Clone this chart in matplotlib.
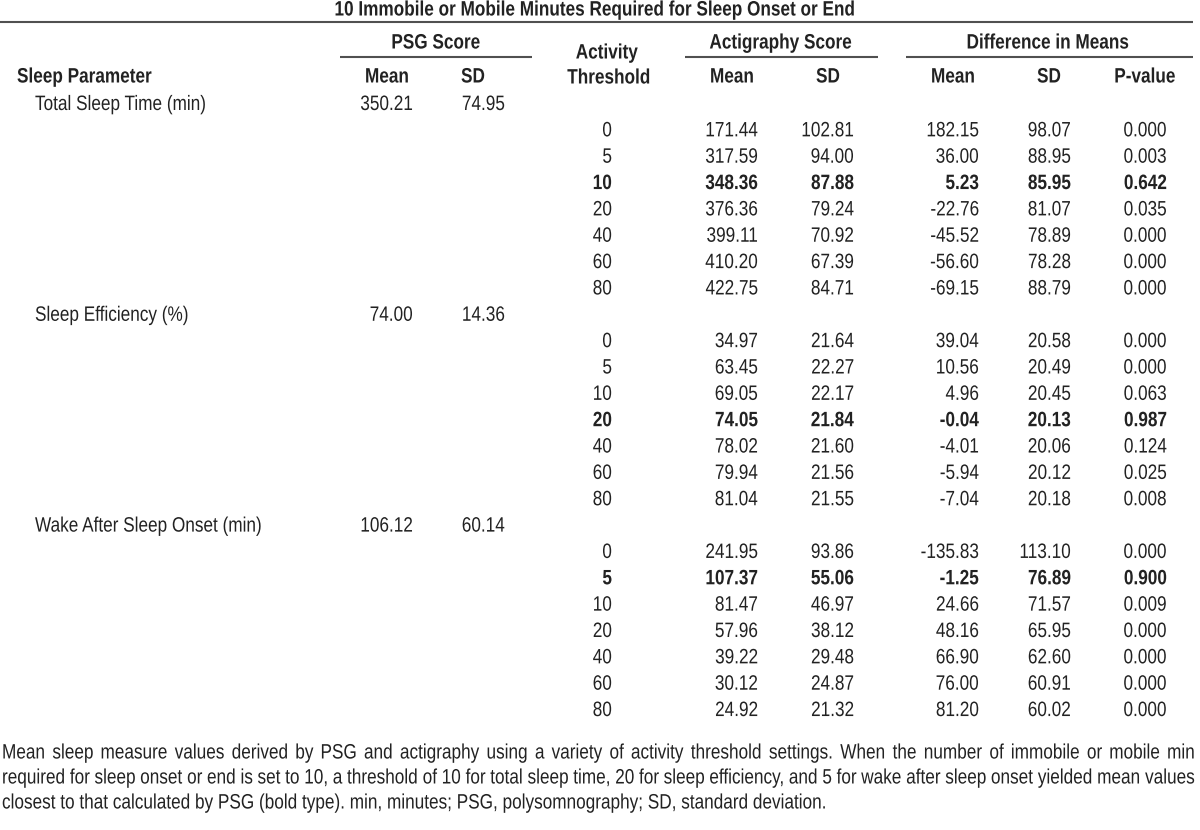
import matplotlib
matplotlib.use("Agg")
import matplotlib.pyplot as plt
from matplotlib.patheffects import AbstractPathEffect
from matplotlib.transforms import Affine2D, Bbox
from matplotlib.text import Text

# ---------- data ----------
title = "10 Immobile or Mobile Minutes Required for Sleep Onset or End"
params = ["Total Sleep Time (min)", "Sleep Efficiency (%)", "Wake After Sleep Onset (min)"]
psg_mean = ["350.21", "74.00", "106.12"]
psg_sd = ["74.95", "14.36", "60.14"]
thresholds = ["0", "5", "10", "20", "40", "60", "80"]

act_mean = [
    ["171.44", "317.59", "348.36", "376.36", "399.11", "410.20", "422.75"],
    ["34.97", "63.45", "69.05", "74.05", "78.02", "79.94", "81.04"],
    ["241.95", "107.37", "81.47", "57.96", "39.22", "30.12", "24.92"],
]
act_sd = [
    ["102.81", "94.00", "87.88", "79.24", "70.92", "67.39", "84.71"],
    ["21.64", "22.27", "22.17", "21.84", "21.60", "21.56", "21.55"],
    ["93.86", "55.06", "46.97", "38.12", "29.48", "24.87", "21.32"],
]
diff_mean = [
    ["182.15", "36.00", "5.23", "-22.76", "-45.52", "-56.60", "-69.15"],
    ["39.04", "10.56", "4.96", "-0.04", "-4.01", "-5.94", "-7.04"],
    ["-135.83", "-1.25", "24.66", "48.16", "66.90", "76.00", "81.20"],
]
diff_sd = [
    ["98.07", "88.95", "85.95", "81.07", "78.89", "78.28", "88.79"],
    ["20.58", "20.49", "20.45", "20.13", "20.06", "20.12", "20.18"],
    ["113.10", "76.89", "71.57", "65.95", "62.60", "60.91", "60.02"],
]
pvals = [
    ["0.000", "0.003", "0.642", "0.035", "0.000", "0.000", "0.000"],
    ["0.000", "0.000", "0.063", "0.987", "0.124", "0.025", "0.008"],
    ["0.000", "0.900", "0.009", "0.000", "0.000", "0.000", "0.000"],
]
best = [2, 3, 1]   # bold threshold row per parameter

caption_lines = [
    "Mean sleep measure values derived by PSG and actigraphy using a variety of activity threshold "
    "settings. When the number of immobile or mobile min",
    "required for sleep onset or end is set to 10, a threshold of 10 for total sleep time, 20 for sleep "
    "efficiency, and 5 for wake after sleep onset yielded mean values",
    "closest to that calculated by PSG (bold type). min, minutes; PSG, polysomnography; SD, standard deviation.",
]

# ---------- style ----------
FAM = ["Liberation Sans", "DejaVu Sans"]
FS = 15.0
SX = 0.825          # horizontal squeeze -> narrow face look
TC = "#222222"
LC = "#505050"


class Squeeze(AbstractPathEffect):
    """draw text glyphs compressed horizontally about their origin"""
    def __init__(self, sx):
        super().__init__()
        self.sx = sx

    def draw_path(self, renderer, gc, tpath, affine, rgbFace=None):
        renderer.draw_path(gc, tpath, Affine2D().scale(self.sx, 1) + affine, rgbFace)


class NarrowText(Text):
    """left-anchored text whose reported extent matches the squeezed glyphs"""
    def get_window_extent(self, renderer=None, dpi=None):
        bb = super().get_window_extent(renderer, dpi)
        return Bbox.from_extents(bb.x0, bb.y0, bb.x0 + bb.width * SX, bb.y1)


fig = plt.figure(figsize=(12, 8.3), dpi=100)
ax = fig.add_axes([0, 0, 1, 1])
ax.set_xlim(0, 1200); ax.set_ylim(830, 0); ax.axis("off")
fig.canvas.draw()
rend = fig.canvas.get_renderer()


def width(s, bold=False):
    t = ax.text(0, 0, s, fontsize=FS, family=FAM, fontweight="bold" if bold else "normal")
    w = t.get_window_extent(rend).width
    t.remove()
    return w * SX


def txt(x, y, s, ha="center", bold=False):
    w = width(s, bold)
    x0 = {"left": x, "center": x - w / 2, "right": x - w}[ha]
    t = NarrowText(x0, y, s, ha="left", va="center", fontsize=FS, family=FAM, color=TC,
                   fontweight="bold" if bold else "normal", path_effects=[Squeeze(SX)])
    ax._add_text(t)
    return t


def hline(x0, x1, y, lw=1.5):
    ax.plot([x0, x1], [y, y], color=LC, lw=lw, solid_capstyle="butt")


# header
txt(596, 10, title, bold=True)
hline(0, 1193, 22.5)
txt(436, 43, "PSG Score", bold=True)
txt(781, 43, "Actigraphy Score", bold=True)
txt(1048, 43, "Difference in Means", bold=True)
hline(340, 532, 57); hline(685, 878, 57); hline(906, 1193, 57)
txt(607, 53, "Activity", bold=True)
txt(609, 78, "Threshold", bold=True)
txt(17, 77, "Sleep Parameter", ha="left", bold=True)
for x, s in [(387, "Mean"), (473, "SD"), (732, "Mean"), (828, "SD"),
             (953, "Mean"), (1049, "SD"), (1145, "P-value")]:
    txt(x, 77, s, bold=True)

# body
y0, dy = 104.5, 26.35
row = 0
for p in range(3):
    y = y0 + dy * row
    txt(35, y, params[p], ha="left")
    txt(413, y, psg_mean[p], ha="right")
    txt(505, y, psg_sd[p], ha="right")
    row += 1
    for i, th in enumerate(thresholds):
        y = y0 + dy * row
        b = (i == best[p])
        txt(612, y, th, ha="right", bold=b)
        txt(758, y, act_mean[p][i], ha="right", bold=b)
        txt(854, y, act_sd[p][i], ha="right", bold=b)
        txt(979, y, diff_mean[p][i], ha="right", bold=b)
        txt(1071, y, diff_sd[p][i], ha="right", bold=b)
        txt(1167, y, pvals[p][i], ha="right", bold=b)
        row += 1

# caption, justified except for the last line
left, right = 2, 1195
cy0, cdy = 753, 25
for li, line in enumerate(caption_lines):
    y = cy0 + cdy * li
    if li == len(caption_lines) - 1:
        txt(left, y, line, ha="left")
        continue
    words = line.split()
    ws = [width(w) for w in words]
    gap = (right - left - sum(ws)) / (len(words) - 1)
    x = left
    for w, wd in zip(words, ws):
        txt(x, y, w, ha="left")
        x += wd + gap

fig.savefig("out.png", dpi=100)
